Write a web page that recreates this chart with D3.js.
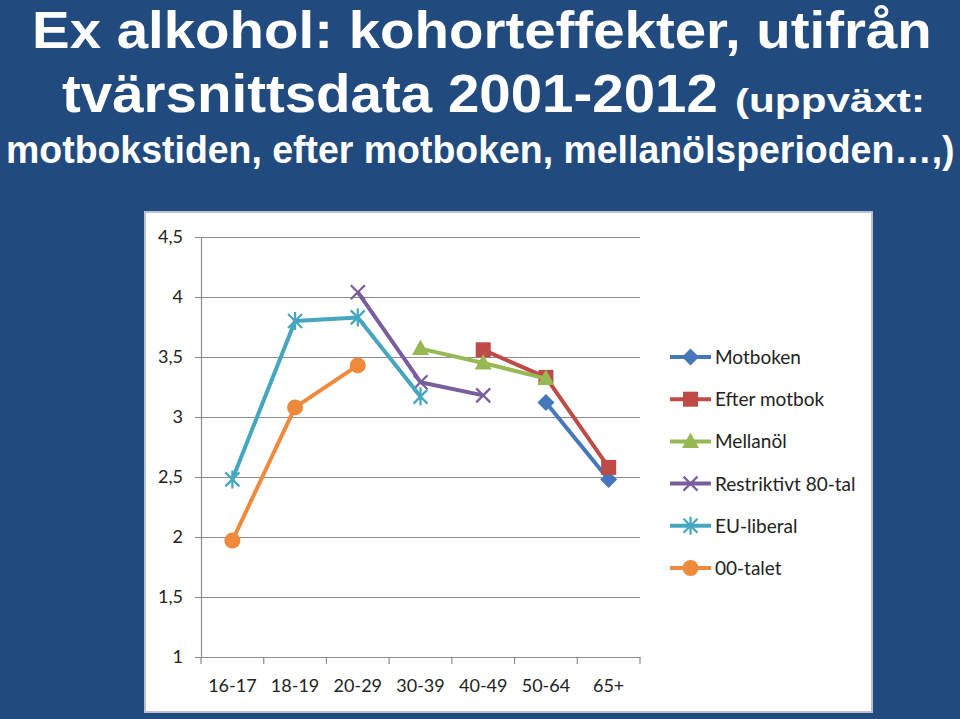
<!DOCTYPE html>
<html>
<head>
<meta charset="utf-8">
<script src="https://d3js.org/d3.v7.min.js"></script>
<style>
  html, body { margin: 0; padding: 0; background: #214a7e; }
  svg { display: block; }
</style>
</head>
<body>
<div id="chart"></div>
<script>
const ageGroups = ['16-17', '18-19', '20-29', '30-39', '40-49', '50-64', '65+'];
const yTicks = [1, 1.5, 2, 2.5, 3, 3.5, 4, 4.5];

const motboken     = [null, null, null, null, null, 3.12, 2.48];
const efterMotbok  = [null, null, null, null, 3.56, 3.33, 2.58];
const mellanol     = [null, null, null, 3.57, 3.45, 3.32, null];
const restriktivt  = [null, null, 4.04, 3.29, 3.18, null, null];
const euLiberal    = [2.48, 3.80, 3.83, 3.17, null, null, null];
const nollTalet    = [1.97, 3.08, 3.43, null, null, null, null];

const seriesNames = ['Motboken', 'Efter motbok', 'Mellanöl', 'Restriktivt 80-tal', 'EU-liberal', '00-talet'];
const seriesValues = [motboken, efterMotbok, mellanol, restriktivt, euLiberal, nollTalet];
const colors = ['#4677bb', '#be4b48', '#97b954', '#7a5d9f', '#46a6c0', '#ef8a3c'];
const markers = ['diamond', 'square', 'triangle', 'cross', 'asterisk', 'circle'];

const W = 960, H = 719;
const svg = d3.select('#chart').append('svg')
    .attr('width', W)
    .attr('height', H);

svg.append('rect')
    .attr('width', W).attr('height', H)
    .attr('fill', '#214a7e');

// title: each piece squeezed horizontally to the width it has in the slide
const title = svg.append('g')
    .style('font-family', '"Liberation Sans", Arial, sans-serif')
    .style('font-weight', 'bold')
    .attr('fill', '#ffffff');

function titleText(txt, x0, baseline, size, width) {
    const g = title.append('g');
    const t = g.append('text')
        .attr('x', 0).attr('y', 0)
        .style('font-size', size + 'px')
        .text(txt);
    const k = width / t.node().getComputedTextLength();
    g.attr('transform', `translate(${x0},${baseline}) scale(${k},1)`);
}

titleText('Ex alkohol: kohorteffekter, utifrån', 32, 48, 52, 900);
titleText('tvärsnittsdata 2001-2012', 62, 112, 54, 656);
titleText('(uppväxt:', 735, 112, 34, 190);
titleText('motbokstiden, efter motboken, mellanölsperioden…,)', 6, 163, 39, 949);

// chart box
svg.append('rect')
    .attr('x', 145).attr('y', 212)
    .attr('width', 727).attr('height', 500)
    .attr('fill', '#ffffff')
    .attr('stroke', '#b9c1cc')
    .attr('stroke-width', 2);

const plotLeft = 201, plotRight = 640, plotTop = 237, plotBottom = 657;

const x = d3.scaleBand()
    .domain(ageGroups)
    .range([plotLeft, plotRight]);

const y = d3.scaleLinear()
    .domain([1, 4.5])
    .range([plotBottom, plotTop]);

const font = 'Lato, "Open Sans", sans-serif';

// gridlines
svg.append('g')
    .attr('transform', `translate(${plotLeft},0)`)
    .call(d3.axisLeft(y).tickValues(yTicks).tickSize(-(plotRight - plotLeft)).tickFormat(''))
    .call(g => g.select('.domain').remove())
    .call(g => g.selectAll('line').attr('stroke', '#8c8c8c').attr('stroke-width', 1.2));

// y axis
svg.append('g')
    .attr('transform', `translate(${plotLeft},0)`)
    .call(d3.axisLeft(y).tickValues(yTicks).tickSize(6).tickPadding(12)
        .tickFormat(d => String(d).replace('.', ',')))
    .call(g => g.select('.domain').attr('stroke', '#8c8c8c').attr('stroke-width', 1.2))
    .call(g => g.selectAll('line').attr('stroke', '#8c8c8c'))
    .call(g => g.selectAll('text')
        .style('font-family', font).style('font-size', '18px').attr('fill', '#222'));

// x axis
const xAxis = svg.append('g')
    .attr('transform', `translate(0,${plotBottom})`)
    .call(d3.axisBottom(x).tickSize(0).tickPadding(22))
    .call(g => g.select('.domain').attr('stroke', '#8c8c8c').attr('stroke-width', 1.2))
    .call(g => g.selectAll('text')
        .style('font-family', font).style('font-size', '18px').attr('fill', '#222'));

// category boundary ticks
xAxis.selectAll('.bound')
    .data(ageGroups.concat(['end']))
    .enter()
    .append('line')
    .attr('class', 'bound')
    .attr('x1', (d, i) => i < ageGroups.length ? x(d) : x.range()[1])
    .attr('x2', (d, i) => i < ageGroups.length ? x(d) : x.range()[1])
    .attr('y1', 0).attr('y2', 7)
    .attr('stroke', '#8c8c8c').attr('stroke-width', 1.2);

const cx = d => x(d) + x.bandwidth() / 2;

function drawMarker(g, type, color) {
    if (type === 'diamond') {
        g.append('path').attr('d', 'M0,-8.5L8.5,0L0,8.5L-8.5,0Z').attr('fill', color);
    } else if (type === 'square') {
        g.append('rect').attr('x', -7.5).attr('y', -7.5).attr('width', 15).attr('height', 15).attr('fill', color);
    } else if (type === 'triangle') {
        g.append('path').attr('d', 'M0,-9L8.5,6.5L-8.5,6.5Z').attr('fill', color);
    } else if (type === 'circle') {
        g.append('circle').attr('r', 8).attr('fill', color);
    } else if (type === 'cross') {
        g.append('path').attr('d', 'M-7,-7L7,7M-7,7L7,-7')
            .attr('stroke', color).attr('stroke-width', 2.2).attr('fill', 'none');
    } else if (type === 'asterisk') {
        g.append('path').attr('d', 'M-7,-7L7,7M-7,7L7,-7M0,-9L0,9')
            .attr('stroke', color).attr('stroke-width', 2.2).attr('fill', 'none');
    }
}

const line = d3.line()
    .defined(d => d.value !== null)
    .x(d => cx(d.age))
    .y(d => y(d.value));

seriesValues.forEach((vals, si) => {
    const pts = vals.map((v, i) => ({ age: ageGroups[i], value: v }));
    svg.append('path')
        .datum(pts)
        .attr('d', line)
        .attr('fill', 'none')
        .attr('stroke', colors[si])
        .attr('stroke-width', 4)
        .attr('stroke-linejoin', 'round');
    pts.filter(p => p.value !== null).forEach(p => {
        const g = svg.append('g').attr('transform', `translate(${cx(p.age)},${y(p.value)})`);
        drawMarker(g, markers[si], colors[si]);
    });
});

// legend
const legend = svg.append('g').attr('transform', 'translate(670,357)');
seriesNames.forEach((name, i) => {
    const g = legend.append('g').attr('transform', `translate(0,${i * 42.2})`);
    g.append('line')
        .attr('x1', 0).attr('x2', 41).attr('y1', 0).attr('y2', 0)
        .attr('stroke', colors[i]).attr('stroke-width', 4);
    const m = g.append('g').attr('transform', 'translate(20.5,0)');
    drawMarker(m, markers[i], colors[i]);
    g.append('text')
        .attr('x', 45).attr('y', 7)
        .style('font-family', font).style('font-size', '19px')
        .attr('fill', '#222')
        .text(name);
});
</script>
</body>
</html>
